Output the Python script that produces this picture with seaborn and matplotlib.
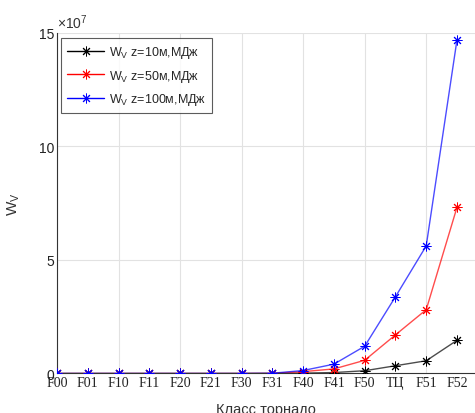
import matplotlib
matplotlib.use("Agg")
import matplotlib.pyplot as plt
import seaborn as sns
import pandas as pd
import numpy as np
from matplotlib.lines import Line2D

categories = ["F00", "F01", "F10", "F11", "F20", "F21", "F30", "F31",
              "F40", "F41", "F50", "ТЦ", "F51", "F52"]
w_z10 = [0.0, 0.0, 0.0, 0.0, 0.0, 0.0, 0.0, 0.001, 0.015, 0.04, 0.12, 0.34, 0.56, 1.46]
w_z50 = [0.0, 0.0, 0.0, 0.0, 0.0, 0.0, 0.0, 0.005, 0.08, 0.2, 0.58, 1.70, 2.81, 7.32]
w_z100 = [0.0, 0.0, 0.0, 0.0, 0.0, 0.0, 0.0, 0.01, 0.13, 0.41, 1.20, 3.38, 5.62, 14.70]
series_labels = [r"W$_\mathrm{V}$ z=10м,МДж", r"W$_\mathrm{V}$ z=50м,МДж", r"W$_\mathrm{V}$ z=100м,МДж"]
colors = ["black", "red", "blue"]

scale = 1e7
x = np.arange(len(categories))
df = pd.concat([
    pd.DataFrame({"x": x, "W": np.array(v) * scale, "series": lab})
    for v, lab in zip([w_z10, w_z50, w_z100], series_labels)
])

sns.set_style("white")
plt.rcParams["font.family"] = ["Liberation Sans", "DejaVu Sans"]
plt.rcParams["mathtext.fontset"] = "custom"
plt.rcParams["mathtext.rm"] = "Liberation Sans"

fig = plt.figure(figsize=(4.75, 4.14), dpi=100)
ax = fig.add_axes([0.12, 0.0955, 0.88, 0.8225])

ast = (8, 2, 0)
for lab, col in zip(series_labels, colors):
    sub = df[df["series"] == lab]
    sns.lineplot(data=sub, x="x", y="W", ax=ax, color=col, linewidth=1.0, alpha=0.7,
                 legend=False)
    ax.plot(sub["x"], sub["W"], linestyle="none", marker=ast, markersize=7,
            markeredgewidth=0.7, color=col, zorder=5)

handles = [Line2D([0], [0], color=c, linewidth=1.0, marker=ast, markersize=7,
                  markeredgewidth=0.7) for c in colors]
leg = ax.legend(handles, series_labels, loc="upper left", bbox_to_anchor=(0.004, 0.993),
                fontsize=9.0, frameon=True, fancybox=False, edgecolor="#333333",
                borderpad=0.5, handlelength=2.9, labelspacing=0.6, handletextpad=0.4,
                borderaxespad=0.2)
leg.get_frame().set_linewidth(0.8)

ax.set_xlim(0, 13 * 418 / 400)
ax.set_ylim(0, 15e7)
ax.set_xticks(x)
ax.set_xticklabels(categories, fontfamily="Liberation Serif", fontsize=10)
ax.set_yticks([0, 5e7, 10e7, 15e7])
ax.set_yticklabels(["0", "5", "10", "15"], fontsize=10)
ax.text(0.0, 1.005, r"$\times10^7$", transform=ax.transAxes, fontsize=10, color="#333333",
        ha="left", va="bottom")

for xv in range(0, 14, 2):
    ax.axvline(xv, color="#e2e2e2", linewidth=0.8, zorder=0)
for yv in [5e7, 10e7, 15e7]:
    ax.axhline(yv, color="#e2e2e2", linewidth=0.8, zorder=0)

ax.tick_params(axis="both", direction="in", length=3, color="#333333", labelcolor="#222222", pad=2)
for s in ["top", "right"]:
    ax.spines[s].set_visible(False)
for s in ["left", "bottom"]:
    ax.spines[s].set_color("#333333")
    ax.spines[s].set_linewidth(0.8)

ax.set_xlabel("Класс торнадо", fontsize=10.5, color="#333333", labelpad=9)
ax.set_ylabel(r"W$_\mathrm{V}$", fontsize=11, color="#333333", labelpad=12)

fig.savefig("out.png", dpi=100)
